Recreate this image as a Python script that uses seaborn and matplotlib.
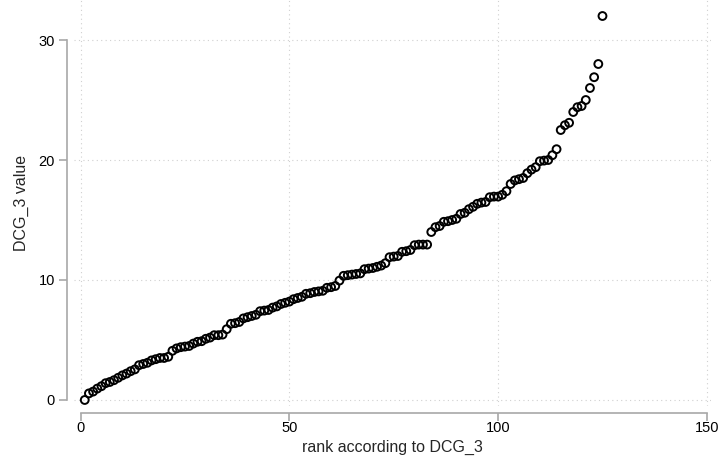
import numpy as np
import pandas as pd
import matplotlib
matplotlib.use("Agg")
import matplotlib.pyplot as plt
import seaborn as sns

# DCG_3 values sorted ascending
dcg3 = [
    0.0, 0.55, 0.7, 0.95, 1.15, 1.4, 1.5, 1.65, 1.85, 2.05,
    2.2, 2.4, 2.55, 2.9, 3.0, 3.1, 3.3, 3.4, 3.5, 3.5,
    3.6, 4.1, 4.3, 4.4, 4.45, 4.5, 4.7, 4.85, 4.9, 5.1,
    5.2, 5.4, 5.4, 5.45, 5.9, 6.35, 6.4, 6.5, 6.8, 6.9,
    7.0, 7.1, 7.4, 7.45, 7.5, 7.7, 7.8, 8.0, 8.1, 8.2,
    8.4, 8.5, 8.6, 8.85, 8.9, 9.0, 9.05, 9.1, 9.35, 9.4,
    9.5, 9.95, 10.35, 10.4, 10.45, 10.5, 10.55, 10.9, 10.95, 11.0,
    11.1, 11.2, 11.4, 11.9, 11.95, 12.0, 12.35, 12.4, 12.5, 12.9,
    12.95, 12.95, 12.95, 14.0, 14.4, 14.5, 14.85, 14.9, 15.0, 15.1,
    15.5, 15.6, 15.9, 16.1, 16.35, 16.45, 16.5, 16.9, 16.95, 16.95,
    17.1, 17.4, 18.0, 18.3, 18.4, 18.5, 18.9, 19.2, 19.4, 19.9,
    19.95, 20.0, 20.4, 20.9, 22.5, 22.9, 23.1, 24.0, 24.4, 24.5,
    25.0, 26.0, 26.9, 28.0, 32.0,
]
ranks = list(range(1, len(dcg3) + 1))
x_ticks = [0, 50, 100, 150]
y_ticks = [0, 10, 20, 30]

df = pd.DataFrame({"rank": ranks, "value": dcg3})

sns.set_style("white")
plt.rcParams["font.family"] = ["Liberation Sans", "DejaVu Sans"]

fig = plt.figure(figsize=(7.18, 4.59), dpi=100)
ax = fig.add_axes([0.1035, 0.1155, 0.8868, 0.8836])

sns.scatterplot(data=df, x="rank", y="value", ax=ax, marker="o",
                facecolor="none", edgecolor="black", linewidth=1.4, s=32)

ax.set_xlim(-1.5, 151)
ax.set_ylim(-0.5, 33.3)
ax.set_xticks(x_ticks)
ax.set_yticks(y_ticks)

ax.grid(True, color="#d0d0d0", linestyle=(0, (1, 3)), linewidth=0.8)
axis_col = "#a8a8a8"
for side in ["top", "right"]:
    ax.spines[side].set_visible(False)
ax.spines["left"].set_position(("outward", 5))
ax.spines["bottom"].set_position(("outward", 5))
ax.spines["left"].set_bounds(0, 30)
ax.spines["bottom"].set_bounds(0, 150)
for side in ["left", "bottom"]:
    ax.spines[side].set_color(axis_col)
    ax.spines[side].set_linewidth(1.2)
ax.tick_params(axis="both", direction="out", length=6, width=1.2,
               color=axis_col, labelsize=10.5, labelcolor="black",
               bottom=True, left=True)
ax.tick_params(axis="x", pad=0)
ax.tick_params(axis="y", pad=3)

ax.set_xlabel("rank according to DCG_3", fontsize=11.5, labelpad=3)
ax.set_ylabel("DCG_3 value", fontsize=11.5, labelpad=7)

fig.savefig("out.png", dpi=100)
